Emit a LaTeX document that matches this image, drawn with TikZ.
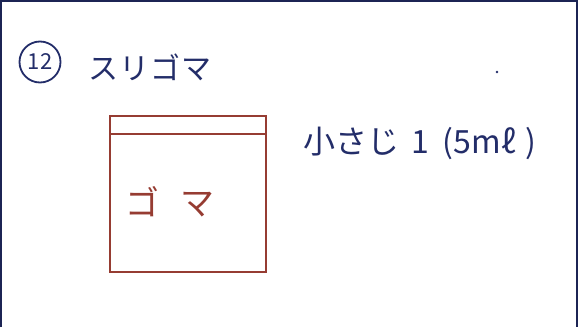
\documentclass[tikz,border=0pt]{standalone}
\usepackage{fontspec}
\newfontfamily\jp{Noto Sans CJK JP}
\definecolor{ink}{RGB}{35,45,105}
\definecolor{redink}{RGB}{150,60,50}
\tikzset{
  inktext/.style={text=ink, font=\jp, inner sep=0pt},
  jar/.style={draw=redink, line width=1.7pt},
  frame/.style={draw=ink!80!black, line width=1.3pt}
}
\begin{document}
\begin{tikzpicture}[x=1pt,y=-1pt]
\useasboundingbox[fill=white] (0,0) rectangle (584,327);
% frame (no bottom edge)
\draw[frame] (1,327) -- (1,1) -- (577,1) -- (577,327);
% numbered circle
\node[draw=ink, line width=1.8pt, circle, minimum size=41pt, inner sep=0pt, text=ink, font=\jp\fontsize{22}{22}\selectfont] (num) at (40,62) {12};
\node[inktext, font=\jp\fontsize{30}{30}\selectfont, anchor=west] (title) at (88,67) {ス\hspace{1pt}リ\hspace{1pt}ゴ\hspace{1pt}マ};
% jar
\draw[jar] (110,116) rectangle (266,272);
\draw[jar] (110,134) -- (266,134);
\node[text=redink, font=\jp\fontsize{34}{34}\selectfont, inner sep=0pt] (goma) at (170,202) {ゴ\hspace{22pt}マ};
% amount
\node[inktext, font=\jp\fontsize{32}{32}\selectfont, anchor=west] (amount) at (303,143) {小さじ\hspace{12pt}1\hspace{14pt}(5mℓ\hspace{10pt})};
% stray dot
\fill[ink] (497,72) circle (1.3pt);
\end{tikzpicture}
\end{document}
